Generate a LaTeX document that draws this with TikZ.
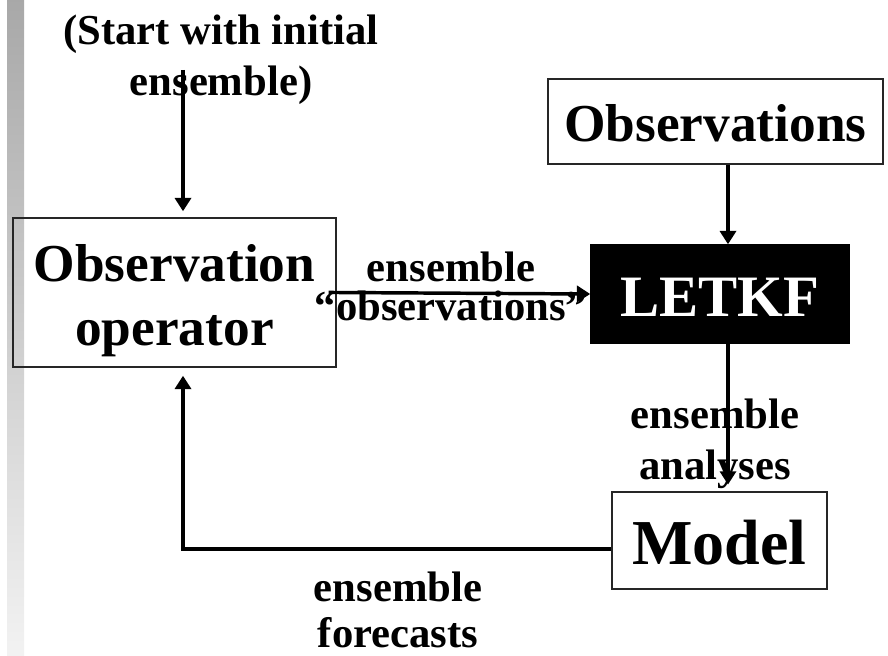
\documentclass[tikz,border=0pt]{standalone}
\usepackage{fontspec}
\setmainfont{Liberation Serif}
\usetikzlibrary{arrows.meta,calc}
\begin{document}
\begin{tikzpicture}[x=0.75pt,y=-0.75pt,
  box/.style={draw=black!85,line width=1.1pt,rectangle,inner sep=0pt,align=center},
  lbl/.style={font=\fontsize{32}{38.4}\selectfont\bfseries,align=center,inner sep=0pt},
  arr/.style={line width=2.6pt,-{Triangle[width=12pt,length=10pt]}},
  ln/.style={line width=2.6pt}]
\useasboundingbox (0,0) rectangle (888,656);
\shade[top color=black!34,bottom color=black!5] (7,0) rectangle (24,656);
% boxes
\node[box,minimum width=242.25pt,minimum height=111.75pt,
  font=\fontsize{40}{48}\selectfont\bfseries] (obsop) at (174.5,292.5) {\rule{0pt}{39.6pt}Observation\\operator};
\node[box,minimum width=251.25pt,minimum height=63.75pt,
  font=\fontsize{40}{48}\selectfont\bfseries] (obs) at (715.5,121.5) {\rule{0pt}{30.6pt}Observations};
\node[box,draw=black,fill=black,text=white,minimum width=193.5pt,minimum height=73.5pt,
  font=\fontsize{44}{52}\selectfont\bfseries] (letkf) at (720,294) {\rule{0pt}{33.6pt}LETKF};
\node[box,minimum width=161.25pt,minimum height=72.75pt,
  font=\fontsize{48}{56}\selectfont\bfseries] (model) at (719.5,540.5) {\rule{0pt}{37pt}Model};
% labels
\node[lbl] (start) at (221,60) {(Start with initial\\ensemble)};
\node[lbl,font=\fontsize{32}{29.25}\selectfont\bfseries] (eobs) at (451,286) {ensemble\\“observations”};
\node[lbl] (eana) at (715,444) {ensemble\\analyses};
\node[lbl,font=\fontsize{32}{34.5}\selectfont\bfseries] (efc) at (398,610) {ensemble\\forecasts};
% helper coordinates
\coordinate (sx) at (183,70);
\coordinate (ax) at (728,0);
\coordinate (my) at (0,549);
% connectors
\draw[arr,shorten >=4.5pt] (sx) -- (obsop.north -| sx);
\draw[arr,shorten <=-6pt] (obsop.east) -- (letkf.west);
\draw[arr] (obs.south -| ax) -- (letkf.north -| ax);
\draw[arr,shorten >=5pt] (letkf.south -| ax) -- (model.north -| ax);
\draw[arr,shorten >=6pt] (model.west |- my) -| (obsop.south -| sx);
\end{tikzpicture}
\end{document}
